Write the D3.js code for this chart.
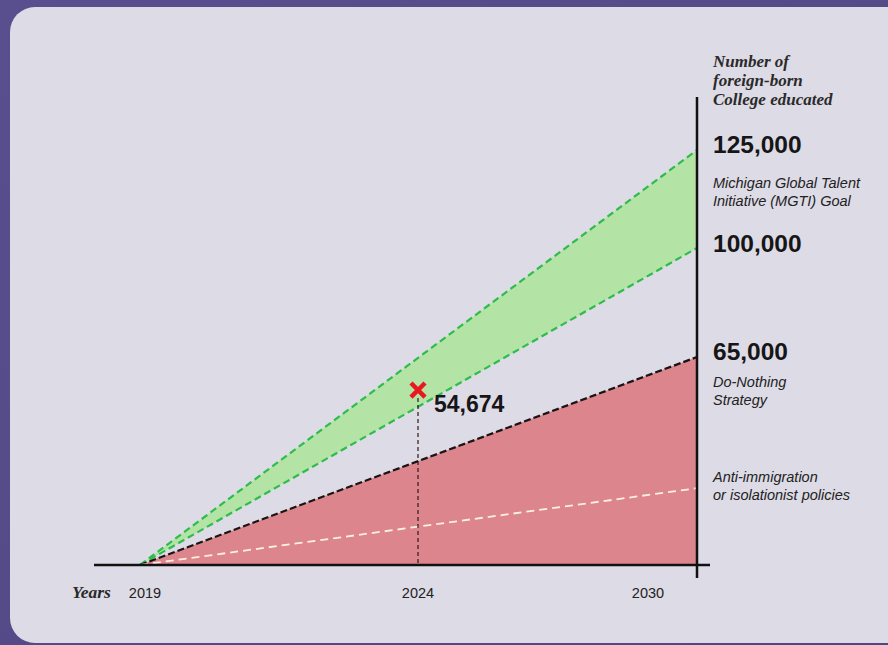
<!DOCTYPE html>
<html>
<head>
<meta charset="utf-8">
<script src="https://cdn.jsdelivr.net/npm/d3@7"></script>
<style>
  html, body { margin: 0; padding: 0; background: #564b8a; }
  svg { display: block; }
  .serif { font-family: 'Liberation Serif', 'DejaVu Serif', serif; font-style: italic; font-weight: bold; fill: #2a2a2a; }
  .big { font-family: 'Liberation Sans', Arial, sans-serif; font-weight: bold; fill: #161616; }
  .note { font-family: 'Liberation Sans', Arial, sans-serif; font-style: italic; fill: #222; }
  .tick { font-family: 'Liberation Sans', Arial, sans-serif; fill: #222; }
</style>
</head>
<body>
<div id="chart"></div>
<script>
// data
const years = [2019, 2024, 2030]
const yearLabels = ['2019', '2024', '2030']
const scenarios = [
  {key: 'goalHigh', start: 0, end: 125000},
  {key: 'goalLow', start: 0, end: 100000},
  {key: 'doNothing', start: 0, end: 65000},
  {key: 'antiImmigration', start: 0, end: 24000}
]
const actual = {year: 2024, value: 54674}
const axisValues = [0, 65000, 100000, 125000]

const width = 888
const height = 645

// the picture is not drawn to a single linear scale, so both scales are piecewise
const x = d3.scaleLinear().domain(years).range([140, 418, 697])
const y = d3.scaleLinear().domain(axisValues).range([565, 357, 248, 150])

const svg = d3.select('#chart').append('svg')
  .attr('width', width)
  .attr('height', height)

// background
const defs = svg.append('defs')
const grad = defs.append('linearGradient').attr('id', 'bg').attr('x1', 0).attr('x2', 1).attr('y1', 0).attr('y2', 1)
grad.append('stop').attr('offset', 0).attr('stop-color', '#5a4f8e')
grad.append('stop').attr('offset', 1).attr('stop-color', '#4f4683')
svg.append('rect').attr('width', width).attr('height', height).attr('fill', 'url(#bg)')
svg.append('rect')
  .attr('x', 10).attr('y', 7)
  .attr('width', 920).attr('height', 636)
  .attr('rx', 25)
  .attr('fill', '#dddbe6')

const byKey = k => scenarios.find(d => d.key === k)
const lineEnds = d => [[years[0], d.start], [years[years.length - 1], d.end]]

// filled areas
const high = byKey('goalHigh')
const low = byKey('goalLow')
const dn = byKey('doNothing')
const x0 = years[0]
const x1 = years[years.length - 1]

svg.append('path')
  .attr('d', d3.line()([[x(x0), y(0)], [x(x1), y(dn.end)], [x(x1), y(0)]]))
  .attr('fill', '#dd858c')

svg.append('path')
  .attr('d', d3.line()([[x(x0), y(high.start)], [x(x1), y(high.end)], [x(x1), y(low.end)], [x(x0), y(low.start)]]))
  .attr('fill', '#b4e3a6')

// dashed scenario lines
const lineStyle = {
  goalHigh: {stroke: '#2cbd4a', width: 2.2, dash: '7,4'},
  goalLow: {stroke: '#2cbd4a', width: 2.2, dash: '7,4'},
  doNothing: {stroke: '#1a1414', width: 2.2, dash: '7,3'},
  antiImmigration: {stroke: '#fbf1de', width: 1.8, dash: '8,5'}
}
const line = d3.line().x(d => x(d[0])).y(d => y(d[1]))
svg.selectAll('path.scenario')
  .data(scenarios)
  .enter().append('path')
  .classed('scenario', true)
  .attr('d', d => line(lineEnds(d)))
  .attr('fill', 'none')
  .attr('stroke', d => lineStyle[d.key].stroke)
  .attr('stroke-width', d => lineStyle[d.key].width)
  .attr('stroke-dasharray', d => lineStyle[d.key].dash)

// axes
svg.append('line')
  .attr('x1', 94).attr('x2', 710)
  .attr('y1', y(0)).attr('y2', y(0))
  .attr('stroke', '#111').attr('stroke-width', 2.5)
svg.append('line')
  .attr('x1', x(x1)).attr('x2', x(x1))
  .attr('y1', 97).attr('y2', 578)
  .attr('stroke', '#111').attr('stroke-width', 2.5)

// actual 2024 value
svg.append('line')
  .attr('x1', x(actual.year)).attr('x2', x(actual.year))
  .attr('y1', y(actual.value) + 8).attr('y2', y(0))
  .attr('stroke', '#2a1a1a').attr('stroke-width', 1.2)
  .attr('stroke-dasharray', '4,3')
svg.append('path')
  .attr('transform', 'translate(' + x(actual.year) + ',' + y(actual.value) + ')')
  .attr('d', d3.symbol(d3.symbolTimes, 130)())
  .attr('fill', 'none')
  .attr('stroke', '#e8191e')
  .attr('stroke-width', 4.5)
svg.append('text')
  .attr('class', 'big')
  .attr('x', x(actual.year) + 16)
  .attr('y', y(actual.value) + 22)
  .attr('font-size', 23)
  .text(d3.format(',')(actual.value))

// year ticks
svg.selectAll('text.tick')
  .data(years)
  .enter().append('text')
  .attr('class', 'tick')
  .attr('x', (d, i) => i === years.length - 1 ? x(d) - 49 : x(d) + (i === 0 ? 5 : 0))
  .attr('y', 598)
  .attr('text-anchor', 'middle')
  .attr('font-size', 14.5)
  .text((d, i) => yearLabels[i])
svg.append('text')
  .attr('class', 'serif')
  .attr('x', 72).attr('y', 598)
  .attr('font-size', 17.5)
  .text('Years')

// right-hand labels
const labelX = x(x1) + 16
const title = svg.append('text').attr('class', 'serif').attr('font-size', 17)
;['Number of', 'foreign-born', 'College educated'].forEach((t, i) => {
  title.append('tspan').attr('x', labelX).attr('y', 67 + i * 19).text(t)
})

const bigLabels = [
  {value: 125000, dy: 3},
  {value: 100000, dy: 4},
  {value: 65000, dy: 3}
]
svg.selectAll('text.value')
  .data(bigLabels)
  .enter().append('text')
  .attr('class', 'big value')
  .attr('x', labelX)
  .attr('y', d => y(d.value) + d.dy)
  .attr('font-size', 24.5)
  .text(d => d3.format(',')(d.value))

const notes = [
  {lines: ['Michigan Global Talent', 'Initiative (MGTI) Goal'], y: 188},
  {lines: ['Do-Nothing', 'Strategy'], y: 387},
  {lines: ['Anti-immigration', 'or isolationist policies'], y: 482}
]
notes.forEach(n => {
  const t = svg.append('text').attr('class', 'note').attr('font-size', 14.5)
  n.lines.forEach((l, i) => {
    t.append('tspan').attr('x', labelX).attr('y', n.y + i * 18).text(l)
  })
})
</script>
</body>
</html>
